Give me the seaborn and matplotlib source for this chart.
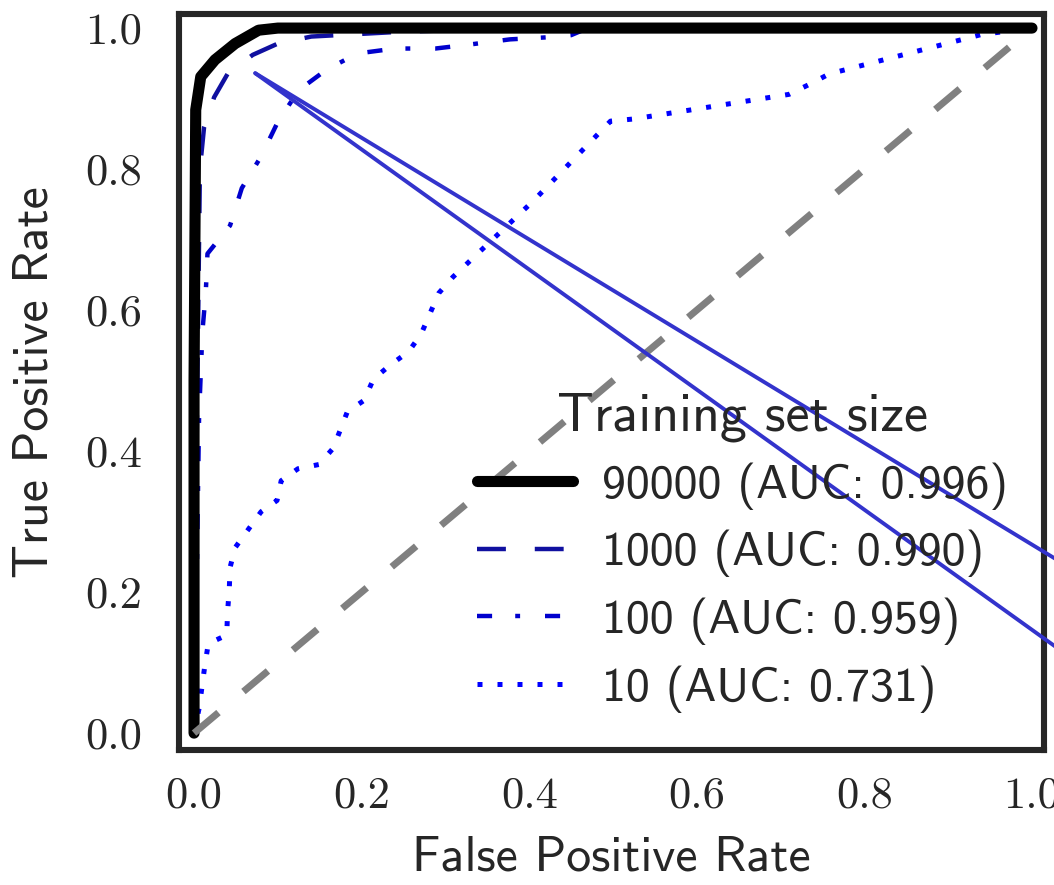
import numpy as np
import pandas as pd
import matplotlib
matplotlib.use('Agg')
import matplotlib.pyplot as plt
import seaborn as sns

# ROC curves (false positive rate, true positive rate)
fpr_90000 = [0.0, 0.0, 0.002, 0.008, 0.025, 0.049, 0.077, 0.10, 1.0]
tpr_90000 = [0.0, 0.50, 0.884, 0.931, 0.955, 0.978, 0.997, 1.0, 1.0]

fpr_1000 = [0.0, 0.002, 0.005, 0.007, 0.012, 0.024, 0.04, 0.07, 0.10, 0.14, 0.25, 0.40, 1.0]
tpr_1000 = [0.0, 0.30, 0.60, 0.80, 0.86, 0.902, 0.935, 0.962, 0.978, 0.988, 0.995, 1.0, 1.0]

fpr_100 = [0.0, 0.003, 0.006, 0.010, 0.014, 0.016, 0.043, 0.057, 0.080, 0.100, 0.125,
           0.158, 0.195, 0.240, 0.288, 0.331, 0.377, 0.423, 0.450, 0.470, 1.0]
tpr_100 = [0.0, 0.20, 0.45, 0.57, 0.625, 0.68, 0.72, 0.773, 0.818, 0.867, 0.912,
           0.941, 0.964, 0.971, 0.971, 0.977, 0.984, 0.987, 0.99, 1.0, 1.0]

fpr_10 = [0.0, 0.006, 0.013, 0.017, 0.039, 0.040, 0.042, 0.043, 0.049, 0.080, 0.099,
          0.104, 0.124, 0.149, 0.166, 0.183, 0.203, 0.214, 0.234, 0.256, 0.271, 0.292,
          0.309, 0.405, 0.497, 0.524, 0.710, 0.734, 0.758, 0.940, 1.0]
tpr_10 = [0.0, 0.035, 0.097, 0.127, 0.139, 0.172, 0.203, 0.235, 0.263, 0.314, 0.330,
          0.358, 0.375, 0.381, 0.404, 0.456, 0.472, 0.502, 0.522, 0.541, 0.566, 0.624,
          0.647, 0.755, 0.868, 0.871, 0.906, 0.920, 0.935, 0.991, 1.0]

labels = ['90000 (AUC: 0.996)', '1000 (AUC: 0.990)', '100 (AUC: 0.959)', '10 (AUC: 0.731)']
ticks = [0.0, 0.2, 0.4, 0.6, 0.8, 1.0]
tick_labels = ['0.0', '0.2', '0.4', '0.6', '0.8', '1.0']

# zoom-inset connector lines (inset itself lies outside the cropped figure)
conn_x = [0.073, 1.3]
conn_upper_y = [0.936, 0.051]
conn_lower_y = [0.936, -0.109]

sns.set_style('white')
plt.rcParams['axes.edgecolor'] = '#262626'
plt.rcParams['text.color'] = '#262626'

fig = plt.figure(figsize=(10.54, 8.85), dpi=100)
ax = fig.add_axes([0.1694, 0.1525, 0.8211, 0.8317])

def curve(x, y):
    return pd.DataFrame({'fpr': x, 'tpr': y})

sns.lineplot(data=curve(fpr_10, tpr_10), x='fpr', y='tpr', ax=ax, estimator=None, sort=False,
             color='#0000ff', linewidth=3.6, linestyle=(0, (1, 3)), label=labels[3])
sns.lineplot(data=curve(fpr_100, tpr_100), x='fpr', y='tpr', ax=ax, estimator=None, sort=False,
             color='#0000cd', linewidth=3.2, linestyle=(0, (3.4, 5.2, 1.1, 5.6)), label=labels[2])
sns.lineplot(data=curve(fpr_1000, tpr_1000), x='fpr', y='tpr', ax=ax, estimator=None, sort=False,
             color='#1010a0', linewidth=3.2, linestyle=(0, (6.5, 6.5)), label=labels[1])
sns.lineplot(data=curve(fpr_90000, tpr_90000), x='fpr', y='tpr', ax=ax, estimator=None, sort=False,
             color='black', linewidth=8, solid_capstyle='round', solid_joinstyle='round',
             label=labels[0])

# chance line
sns.lineplot(x=[0, 1], y=[0, 1], ax=ax, color='gray', linewidth=5,
             linestyle=(0, (4.6, 4.7)), legend=False)

for yy in (conn_upper_y, conn_lower_y):
    ax.plot(conn_x, yy, color='#3333cc', linewidth=2.8, clip_on=False, zorder=5)

ax.set_xlim(-0.0185, 1.0143)
ax.set_ylim(-0.024, 1.020)
for side in ax.spines.values():
    side.set_linewidth(4.4)
    side.set_color('#262626')

ax.set_xticks(ticks)
ax.set_xticklabels(tick_labels, family='cmr10', fontsize=32)
ax.set_yticks(ticks)
ax.set_yticklabels(tick_labels, family='cmr10', fontsize=32)
ax.tick_params(axis='both', length=0)
ax.tick_params(axis='x', pad=19)
ax.tick_params(axis='y', pad=26)

ax.set_xlabel('False Positive Rate', family='cmss10', fontsize=36, labelpad=14)
ax.set_ylabel('True Positive Rate', family='cmss10', fontsize=36, labelpad=20)

handles, labs = ax.get_legend_handles_labels()
order = [labs.index(l) for l in labels]
leg = ax.legend([handles[i] for i in order], [labs[i] for i in order],
                title='Training set size', frameon=False, loc='upper left',
                bbox_to_anchor=(0.295, 0.544), labelspacing=0.42, handletextpad=0.6,
                prop={'family': 'cmss10', 'size': 34.5},
                title_fontproperties={'family': 'cmss10', 'size': 39})

fig.savefig('out.png', dpi=100)
plt.close()
